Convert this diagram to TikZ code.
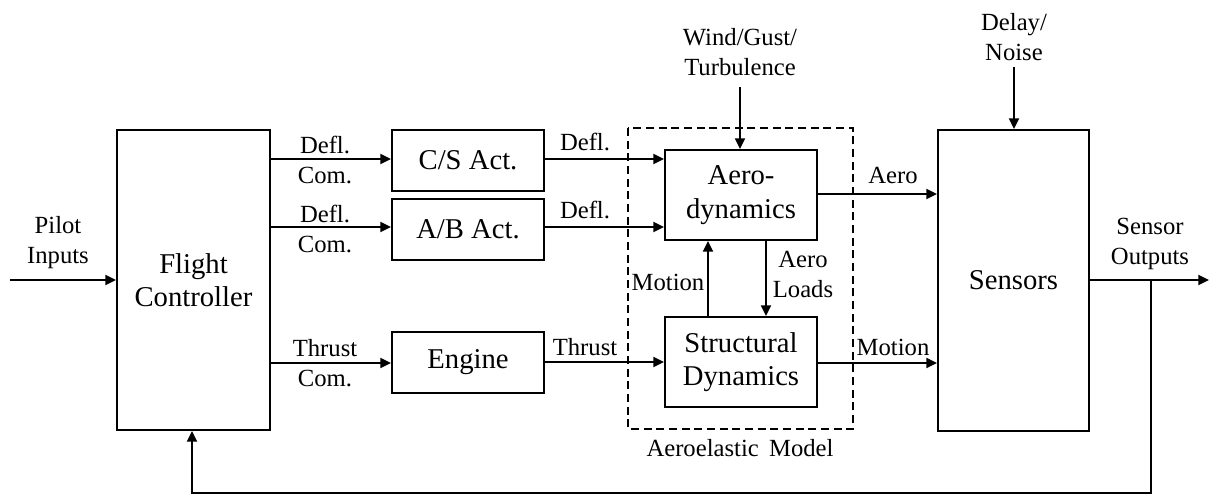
\documentclass[tikz,border=0pt]{standalone}
\usepackage{fontspec}
\setmainfont{Liberation Serif}
\usetikzlibrary{arrows.meta}
\begin{document}
\begin{tikzpicture}[x=0.75pt,y=-0.75pt,
  box/.style={draw,line width=1.5pt,inner sep=0pt,align=center,font=\fontsize{21.5}{25}\selectfont},
  lbl/.style={inner sep=0pt,align=center,font=\fontsize{18.5}{22.5}\selectfont},
  conn/.style={line width=1.5pt,-{Triangle[length=8pt,width=7.5pt]}},
  plain/.style={line width=1.5pt}]
\useasboundingbox (0,0) rectangle (1209,496);
% boxes
\node[box,minimum width=114.75pt,minimum height=225pt] (fc) at (193.5,280) {Flight\\Controller};
\node[box,minimum width=114pt,minimum height=45.75pt] (cs) at (468,160.5) {C/S Act.};
\node[box,minimum width=114pt,minimum height=45.75pt] (ab) at (468,229.5) {A/B Act.};
\node[box,minimum width=114pt,minimum height=45.75pt] (eng) at (468,362.5) {Engine};
\node[box,minimum width=114pt,minimum height=67.5pt] (aero) at (741,195) {Aero-\\dynamics};
\node[box,minimum width=114pt,minimum height=67.5pt] (str) at (741,362) {Structural\\Dynamics};
\node[box,minimum width=113.25pt,minimum height=225.75pt] (sen) at (1013.5,280.5) {Sensors};
% dashed aeroelastic box
\draw[line width=1.2pt,dash pattern=on 6pt off 3.5pt] (628,128) rectangle (853,429);
\node[lbl] (aem) at (740,448) {Aeroelastic\, Model};
% free ends
\coordinate (pin) at (10,280);
\coordinate (wind) at (740,87);
\coordinate (delay) at (1014,67);
\coordinate (out) at (1209,280);
\coordinate (tap) at (1151,280);
\coordinate (fb1) at (1151,493);
\coordinate (fb2) at (192,493);
% connectors
\draw[conn] (pin) -- (pin -| fc.west);
\draw[conn] (fc.east |- 0,159) -- (cs.west |- 0,159);
\draw[conn] (fc.east |- 0,227) -- (ab.west |- 0,227);
\draw[conn] (fc.east |- 0,363) -- (eng.west |- 0,363);
\draw[conn] (cs.east |- 0,159) -- (aero.west |- 0,159);
\draw[conn] (ab.east |- 0,227) -- (aero.west |- 0,227);
\draw[conn] (eng.east |- 0,362) -- (str.west |- 0,362);
\draw[conn] (wind) -- (wind |- aero.north);
\draw[conn] (str.north -| 708,0) -- (aero.south -| 708,0);
\draw[conn] (aero.south -| 766,0) -- (str.north -| 766,0);
\draw[conn] (aero.east |- 0,194) -- (sen.west |- 0,194);
\draw[conn] (str.east |- 0,363) -- (sen.west |- 0,363);
\draw[conn] (delay) -- (delay |- sen.north);
\draw[conn] (sen.east |- out) -- (out);
\draw[conn] (tap) -- (fb1) -- (fb2) -- (fb2 |- fc.south);
% labels
\node[lbl] (lpil) at (58,243) {Pilot\\Inputs};
\node[lbl] (ld1) at (325,160) {Defl.\\Com.};
\node[lbl] (ld2) at (325,229) {Defl.\\Com.};
\node[lbl] (lth) at (325,363) {Thrust\\Com.};
\node[lbl] (ld3) at (585,142) {Defl.};
\node[lbl] (ld4) at (585,210) {Defl.};
\node[lbl] (lth2) at (585,347) {Thrust};
\node[lbl] (lwind) at (740,52) {Wind/Gust/\\Turbulence};
\node[lbl] (lmot) at (668,282) {Motion};
\node[lbl] (lal) at (803,274) {Aero\\Loads};
\node[lbl] (laero) at (893,175) {Aero};
\node[lbl] (lmot2) at (893,347) {Motion};
\node[lbl] (ldel) at (1014,37.5) {Delay/\\Noise};
\node[lbl] (lso) at (1150,244) {Sensor\\Outputs};
\end{tikzpicture}
\end{document}
